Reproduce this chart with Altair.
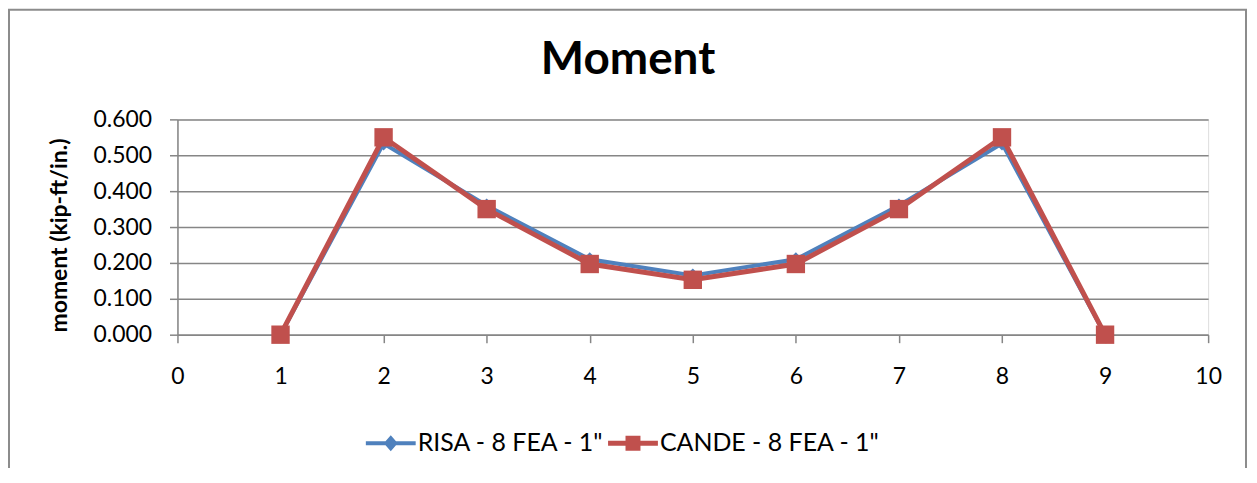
import altair as alt
import pandas as pd

# ---- data ----
positions = [1, 2, 3, 4, 5, 6, 7, 8, 9]
risa = [0.0, 0.533, 0.360, 0.210, 0.165, 0.210, 0.360, 0.533, 0.0]
cande = [0.0, 0.550, 0.350, 0.197, 0.153, 0.197, 0.350, 0.550, 0.0]
series_names = ['RISA - 8 FEA - 1"', 'CANDE - 8 FEA - 1"']
x_ticks = [0, 1, 2, 3, 4, 5, 6, 7, 8, 9, 10]
y_ticks = [0.0, 0.1, 0.2, 0.3, 0.4, 0.5, 0.6]

df_r = pd.DataFrame({"pos": positions, "moment": risa, "series": series_names[0]})
df_c = pd.DataFrame({"pos": positions, "moment": cande, "series": series_names[1]})

FONT = "Lato"
GRID = "#868686"
BLUE = "#4F81BD"
RED = "#C0504D"

x_enc = alt.X(
    "pos:Q",
    scale=alt.Scale(domain=[0, 10], nice=False, zero=False),
    axis=alt.Axis(
        values=x_ticks, format="d", grid=False, title=None,
        tickSize=8, labelPadding=23, labelFontSize=23, labelFont=FONT,
        labelColor="black", domainColor=GRID, tickColor=GRID,
        domainWidth=1.5, tickWidth=1.5, labelFlush=False,
    ),
)
y_enc = alt.Y(
    "moment:Q",
    scale=alt.Scale(domain=[0, 0.6], nice=False),
    axis=alt.Axis(
        values=y_ticks, format=".3f", title="moment (kip-ft/in.)",
        tickSize=8, labelPadding=18, labelFontSize=23, labelFont=FONT,
        labelColor="black", domainColor=GRID, tickColor=GRID,
        gridColor=GRID, gridWidth=1.5, domainWidth=1.5, tickWidth=1.5,
        titleFont=FONT, titleFontSize=23, titleFontWeight="bold",
        titleColor="black", titlePadding=22, titleY=116,
    ),
)

RISA_SYM = "M-1,-0.08L1,-0.08L1,0.08L-1,0.08Z M0,-0.32L0.28,0L0,0.32L-0.28,0Z"
CANDE_SYM = "M-1,-0.1L1,-0.1L1,0.1L-1,0.1Z M-0.3,-0.3L0.3,-0.3L0.3,0.3L-0.3,0.3Z"


def legend(sym, lx, ly):
    return alt.Legend(
        orient="none", legendX=lx, legendY=ly, title=None,
        symbolType=sym, symbolSize=2500, symbolStrokeWidth=0,
        symbolOpacity=1, labelFont=FONT, labelFontSize=25,
        labelColor="black", labelOffset=2, padding=0, labelLimit=400,
    )


# decorative chart-area border (bottom edge lies outside the picture)
border = alt.Chart(pd.DataFrame({"a": [0]})).mark_rect(
    fillOpacity=0, stroke="#8C8C8C", strokeWidth=2
).encode(
    x=alt.value(-169), x2=alt.value(1072), y=alt.value(-110), y2=alt.value(420)
)

line_r = alt.Chart(df_r).mark_line(color=BLUE, strokeWidth=4).encode(x=x_enc, y=y_enc)
pts_r = alt.Chart(df_r).mark_point(
    filled=True, shape="diamond", size=200, opacity=1
).encode(
    x=x_enc, y=y_enc,
    color=alt.Color(
        "series:N",
        scale=alt.Scale(domain=[series_names[0]], range=[BLUE]),
        legend=legend(RISA_SYM, 189, 300),
    ),
)

line_c = alt.Chart(df_c).mark_line(color=RED, strokeWidth=5).encode(x=x_enc, y=y_enc)
pts_c = alt.Chart(df_c).mark_point(
    filled=True, shape="square", size=340, opacity=1
).encode(
    x=x_enc, y=y_enc,
    color=alt.Color(
        "series:N",
        scale=alt.Scale(domain=[series_names[1]], range=[RED]),
        legend=legend(CANDE_SYM, 432, 300),
    ),
)

chart = (
    alt.layer(border, line_r, pts_r, line_c, pts_c)
    .resolve_scale(color="independent")
    .resolve_legend(color="independent")
    .properties(
        width=1034,
        height=216,
        autosize="none",
        padding={"left": 170, "top": 111, "right": 41, "bottom": 133},
        title=alt.TitleParams(
            text="Moment", font=FONT, fontSize=46, fontWeight="bold",
            color="black", dx=-65, offset=-111, baseline="alphabetic",
        ),
    )
    .configure_view(strokeWidth=0)
    .configure(background="white")
)

chart.save("out.html", embed_options={"renderer": "svg", "actions": False})
